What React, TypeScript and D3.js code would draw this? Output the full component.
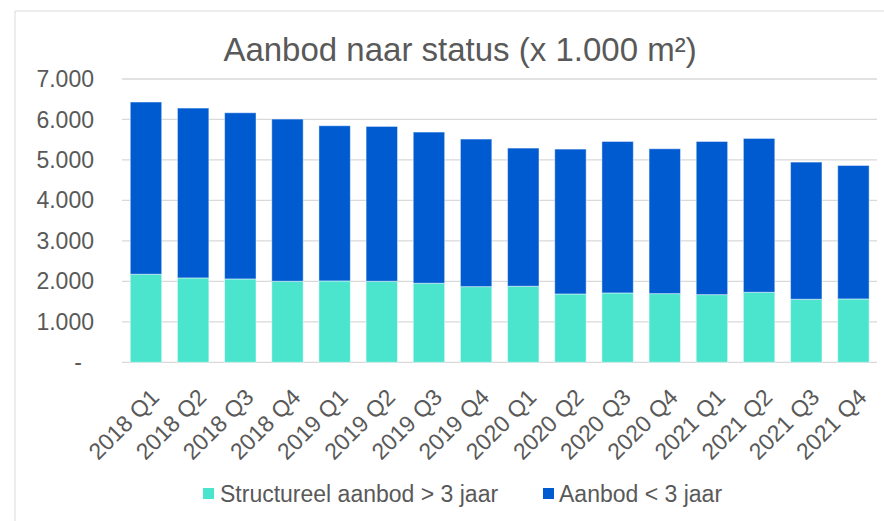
import React from "react";
import * as d3 from "d3";

const categories = [
  "2018 Q1", "2018 Q2", "2018 Q3", "2018 Q4",
  "2019 Q1", "2019 Q2", "2019 Q3", "2019 Q4",
  "2020 Q1", "2020 Q2", "2020 Q3", "2020 Q4",
  "2021 Q1", "2021 Q2", "2021 Q3", "2021 Q4",
];
const structureel = [2177, 2085, 2060, 2003, 2011, 2003, 1954, 1870, 1880, 1689, 1714, 1697, 1672, 1731, 1558, 1566];
const recent = [4254, 4197, 4106, 4007, 3834, 3825, 3735, 3646, 3413, 3579, 3742, 3579, 3784, 3800, 3389, 3297];
const yTicks = [0, 1000, 2000, 3000, 4000, 5000, 6000, 7000];
const seriesNames = ["Structureel aanbod > 3 jaar", "Aanbod < 3 jaar"];
const seriesKeys = ["structureel", "recent"];
const colors = ["#4BE5CE", "#005BD1"];
const title = "Aanbod naar status (x 1.000 m²)";

const FONT = "'Liberation Sans', Arial, sans-serif";
const TEXT = "#595959";
const GRID = "#D9D9D9";

export default function App() {
  const W = 884, H = 521;
  const x = d3.scaleBand<string>().domain(categories).range([122.4, 877]).paddingInner(0.334).paddingOuter(0.167);
  const y = d3.scaleLinear().domain([0, 7000]).range([362.3, 79]);

  const rows = categories.map((c, i) => ({ cat: c, structureel: structureel[i], recent: recent[i] }));
  const stacked = d3.stack<any>().keys(seriesKeys)(rows);

  const locale = d3.formatLocale({ thousands: ".", decimal: ",", grouping: [3], currency: ["", ""] });
  const fmt = locale.format(",");

  return (
    <svg width={W} height={H} style={{ position: "absolute", left: 0, top: 0, background: "#fff" }}>
      <rect x={0} y={0} width={W} height={H} fill="#fff" />
      {/* chart border */}
      <line x1={15} x2={W} y1={11} y2={11} stroke={GRID} strokeWidth={1} />
      <line x1={15} x2={15} y1={11} y2={H} stroke={GRID} strokeWidth={1} />

      <text x={460} y={61} textAnchor="middle" fontFamily={FONT} fontSize={33} fill={TEXT}>{title}</text>

      {yTicks.map((t) => (
        <g key={t}>
          <line x1={122} x2={877} y1={y(t)} y2={y(t)} stroke={GRID} strokeWidth={1.3} />
          {t === 0 ? (
            <text x={78} y={y(t)} dy="0.35em" textAnchor="middle" fontFamily={FONT} fontSize={23} fill={TEXT}>-</text>
          ) : (
            <text x={94} y={y(t)} dy="0.35em" textAnchor="end" fontFamily={FONT} fontSize={23} fill={TEXT}>{fmt(t)}</text>
          )}
        </g>
      ))}

      {stacked.map((s, si) => (
        <g key={s.key}>
          {s.map((d: any) => (
            <rect
              key={d.data.cat}
              x={x(d.data.cat)}
              y={y(d[1])}
              width={x.bandwidth()}
              height={y(d[0]) - y(d[1])}
              fill={colors[si]}
              stroke="#ffffff"
              strokeOpacity={0.45}
              strokeWidth={1}
            />
          ))}
        </g>
      ))}

      {categories.map((c) => {
        const cx = (x(c) as number) + x.bandwidth() / 2;
        return (
          <text key={c} transform={`translate(${cx},384) rotate(-45)`} dy="0.9em" textAnchor="end"
            fontFamily={FONT} fontSize={23} fill={TEXT}>{c}</text>
        );
      })}

      {/* legend */}
      <g>
        <rect x={203} y={488} width={11} height={11} fill={colors[0]} />
        <text x={220} y={502} fontFamily={FONT} fontSize={23} fill={TEXT}>{seriesNames[0]}</text>
        <rect x={543} y={488} width={11} height={11} fill={colors[1]} />
        <text x={559} y={502} fontFamily={FONT} fontSize={23} fill={TEXT}>{seriesNames[1]}</text>
      </g>
    </svg>
  );
}
